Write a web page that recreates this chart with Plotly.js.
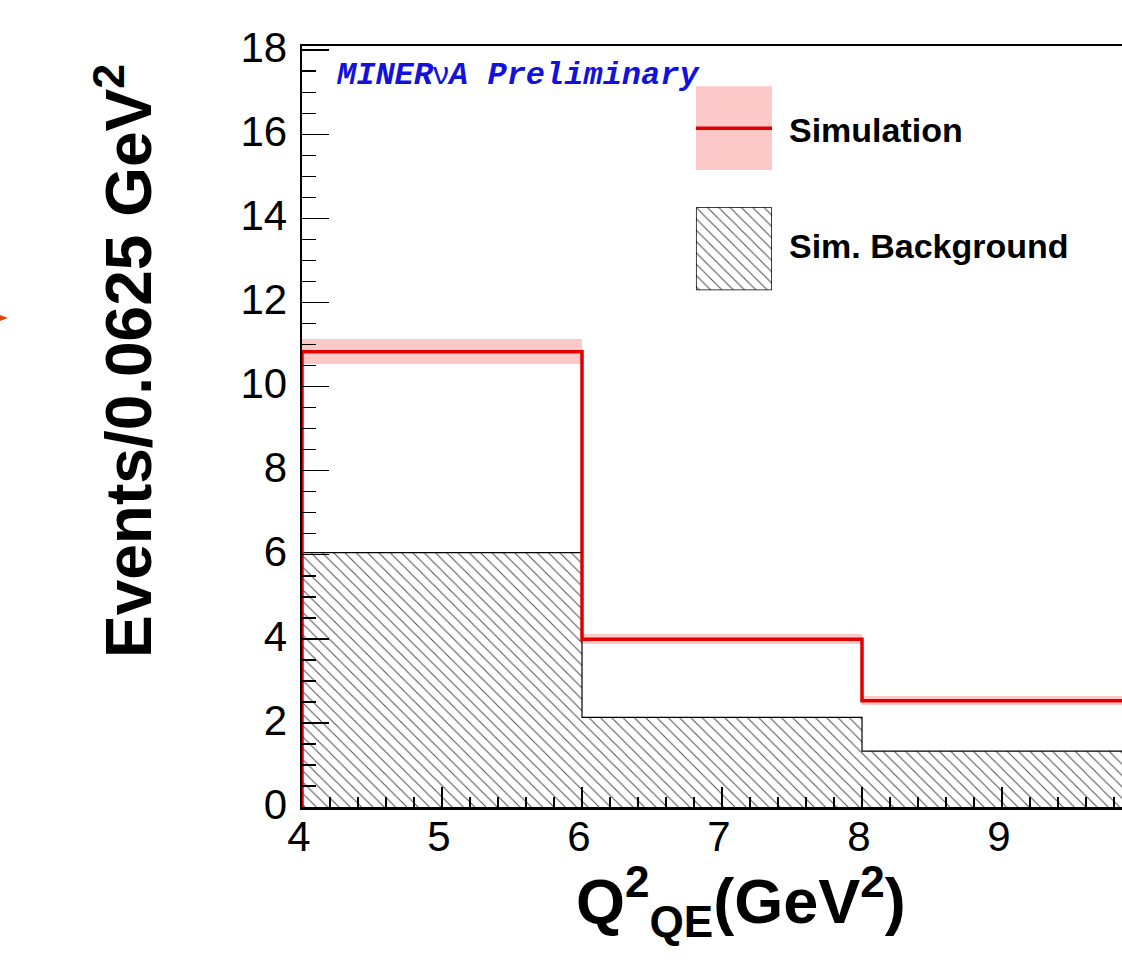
<!DOCTYPE html>
<html><head><meta charset="utf-8">
<script src="https://cdn.plot.ly/plotly-3.0.1.min.js"></script>
<style>html,body{margin:0;padding:0;overflow:hidden;background:#fff}#chart{width:1160px;height:968px}</style>
</head><body><div id="chart"></div>
<script>
// ---- data ----
const binEdges = [4, 6, 8, 10];
const simulation = [10.83, 3.99, 2.53];
const simulationErr = [0.30, 0.12, 0.10];
const simBackground = [6.05, 2.13, 1.33];
const xTickVals = [4, 5, 6, 7, 8, 9, 10];
const yTickVals = [0, 2, 4, 6, 8, 10, 12, 14, 16, 18];
const legendLabels = ["Simulation", "Sim. Background"];
const yTitle = "Events/0.0625 GeV<sup>2</sup>";
const xTitle = "Q<sup>2</sup><sub>QE</sub>(GeV<sup>2</sup>)";
const watermark = "MINER<span style='font-family:Liberation Sans;font-weight:normal;font-style:normal'>ν</span>A Preliminary";

// ---- derived ----
const centers = binEdges.slice(0, -1).map((e, i) => (e + binEdges[i + 1]) / 2);
const widths = binEdges.slice(0, -1).map((e, i) => binEdges[i + 1] - e);
function stepPoints(vals) {
  const xs = [binEdges[0]], ys = [0];
  vals.forEach((v, i) => { xs.push(binEdges[i]); ys.push(v); });
  const last = binEdges[binEdges.length - 1];
  xs.push(last); ys.push(vals[vals.length - 1]);
  xs.push(last); ys.push(0);
  return { xs, ys };
}
const simStep = stepPoints(simulation);
const bkgStep = stepPoints(simBackground);

const hatch = { shape: "\\", fgcolor: "#4a4a4a", bgcolor: "#ffffff", size: 8, solidity: 0.12 };

const traces = [
  { type: "bar", x: centers, y: simBackground, width: widths,
    marker: { color: "#4a4a4a", pattern: hatch, line: { width: 0 } },
    showlegend: false, hoverinfo: "skip", name: legendLabels[1] },
  { type: "bar", x: centers, y: simulationErr.map(e => 2 * e),
    base: simulation.map((v, i) => v - simulationErr[i]), width: widths,
    marker: { color: "#fcc8c8", line: { width: 0 } },
    showlegend: false, hoverinfo: "skip" },
  { type: "scatter", mode: "lines", x: bkgStep.xs, y: bkgStep.ys,
    line: { color: "#000", width: 1.2, shape: "hv" }, showlegend: false, hoverinfo: "skip" },
  { type: "scatter", mode: "lines", x: simStep.xs, y: simStep.ys,
    line: { color: "#e00000", width: 3.5, shape: "hv" }, showlegend: false, hoverinfo: "skip", name: legendLabels[0] },
  // legend hatch swatch
  { type: "bar", x: [0.5], y: [1], width: [1], xaxis: "x2", yaxis: "y2",
    marker: { color: "#4a4a4a", pattern: hatch, line: { width: 0 } },
    showlegend: false, hoverinfo: "skip" }
];

const tickFont = { family: "Liberation Sans, Arial, sans-serif", size: 42, color: "#000" };

const layout = {
  width: 1160, height: 968,
  margin: { l: 302, r: 18, t: 46, b: 161 },
  paper_bgcolor: "#fff", plot_bgcolor: "#fff",
  barmode: "overlay", bargap: 0,
  showlegend: false,
  xaxis: {
    range: [4, 10], tickvals: xTickVals, ticktext: xTickVals.map(String),
    ticks: "inside", ticklen: 20, tickwidth: 1.5, tickcolor: "#000",
    minor: { dtick: 0.2, ticks: "inside", ticklen: 10, tickwidth: 1.5, tickcolor: "#000" },
    showline: true, linecolor: "#000", linewidth: 2.5, mirror: true,
    showgrid: false, zeroline: false, tickfont: tickFont, ticklabelstandoff: -9, ticklabelshift: -3
  },
  yaxis: {
    range: [0, 18.1], tickvals: yTickVals, ticktext: yTickVals.map(String),
    ticks: "inside", ticklen: 27, tickwidth: 1.5, tickcolor: "#000",
    minor: { dtick: 0.5, ticks: "inside", ticklen: 14, tickwidth: 1.5, tickcolor: "#000" },
    showline: true, linecolor: "#000", linewidth: 2.5, mirror: true,
    showgrid: false, zeroline: false, tickfont: tickFont, ticklabelstandoff: 4, ticklabelshift: -3
  },
  xaxis2: { domain: [0.469, 0.5595], range: [0, 1], visible: false, anchor: "y2", fixedrange: true },
  yaxis2: { domain: [0.679, 0.788], range: [0, 1], visible: false, anchor: "x2", fixedrange: true },
  shapes: [
    { type: "rect", xref: "paper", yref: "paper", x0: 0.469, x1: 0.5595, y0: 0.837, y1: 0.947,
      fillcolor: "#fcc8c8", line: { width: 0 }, layer: "above" },
    { type: "line", xref: "paper", yref: "paper", x0: 0.469, x1: 0.5595, y0: 0.892, y1: 0.892,
      line: { color: "#e00000", width: 3.5 }, layer: "above" },
    { type: "rect", xref: "x2", yref: "y2", x0: 0, x1: 1, y0: 0, y1: 1,
      line: { color: "#000", width: 1.5 }, fillcolor: "rgba(0,0,0,0)", layer: "above" },
    { type: "path", xref: "paper", yref: "paper",
      path: "M -0.3595 0.6465 L -0.3500 0.6426 L -0.3595 0.6386 Z",
      fillcolor: "#dc4a0c", line: { width: 0 } }
  ],
  annotations: [
    { xref: "paper", yref: "paper", x: -0.2125, y: 0.5854, xanchor: "center", yanchor: "middle",
      textangle: -90, showarrow: false, text: "<b>" + yTitle + "</b>",
      font: { family: "Liberation Sans, Arial, sans-serif", size: 64, color: "#000" } },
    { xref: "paper", yref: "paper", x: 0.5226, y: -0.124, xanchor: "center", yanchor: "middle",
      showarrow: false, text: "<b>" + xTitle + "</b>",
      font: { family: "Liberation Sans, Arial, sans-serif", size: 63, color: "#000" } },
    { xref: "paper", yref: "paper", x: 0.038, y: 0.962, xanchor: "left", yanchor: "middle",
      showarrow: false, text: "<b><i>" + watermark + "</i></b>",
      font: { family: "Liberation Mono, Courier New, monospace", size: 32, color: "#1212dc" } },
    { xref: "paper", yref: "paper", x: 0.5775, y: 0.8896, xanchor: "left", yanchor: "middle",
      showarrow: false, text: "<b>" + legendLabels[0] + "</b>",
      font: { family: "Liberation Sans, Arial, sans-serif", size: 34, color: "#000" } },
    { xref: "paper", yref: "paper", x: 0.5775, y: 0.737, xanchor: "left", yanchor: "middle",
      showarrow: false, text: "<b>" + legendLabels[1] + "</b>",
      font: { family: "Liberation Sans, Arial, sans-serif", size: 34, color: "#000" } }
  ]
};

Plotly.newPlot("chart", traces, layout, { displayModeBar: false, staticPlot: true });
</script>
</body></html>
